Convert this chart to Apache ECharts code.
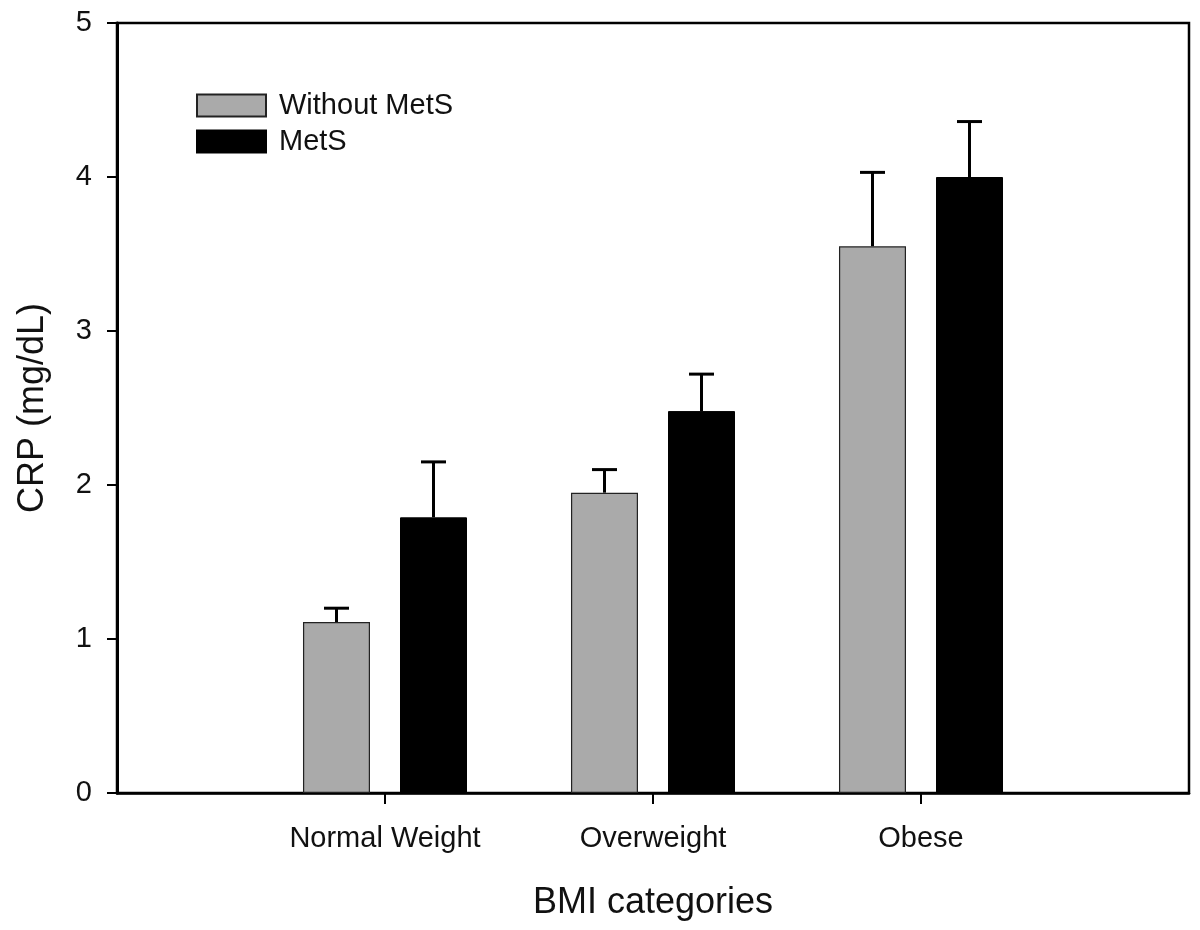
<!DOCTYPE html>
<html>
<head>
<meta charset="utf-8">
<script src="https://cdn.jsdelivr.net/npm/echarts@6/dist/echarts.min.js"></script>
<style>
  html, body { margin: 0; padding: 0; background: #fff; }
  #chart { width: 1200px; height: 930px; }
</style>
</head>
<body>
<div id="chart"></div>
<script>
// ---- Data ----
const categories = ['Normal Weight', 'Overweight', 'Obese'];
const categoryPositions = [1, 2, 3];
const seriesNames = ['Without MetS', 'MetS'];
const withoutMetS = [1.11, 1.95, 3.55];
const withoutMetSErr = [0.09, 0.15, 0.48];
const metS = [1.79, 2.48, 4.00];
const metSErr = [0.36, 0.24, 0.36];
const yTicks = [0, 1, 2, 3, 4, 5];

// ---- Styles ----
const FONT = 'Arial, "Liberation Sans", sans-serif';
const TEXT = '#111';
const BAR_W = 67;
const GAP_PX = 30;
const HALF_OFFSET = (BAR_W + GAP_PX) / 2;

function pairs(vals) { return vals.map((v, i) => [categoryPositions[i], v]); }
function errData(vals, errs) { return vals.map((v, i) => [categoryPositions[i], v, errs[i]]); }

function errRenderer(offset) {
  return function (params, api) {
    const x = api.value(0), v = api.value(1), e = api.value(2);
    const p0 = api.coord([x, v]);
    const p1 = api.coord([x, v + e]);
    const cx = p0[0] + offset;
    const cap = 12.5;
    const style = { stroke: '#000', lineWidth: 3 };
    return {
      type: 'group',
      children: [
        { type: 'line', shape: { x1: cx, y1: p0[1], x2: cx, y2: p1[1] }, style: style },
        { type: 'line', shape: { x1: cx - cap, y1: p1[1], x2: cx + cap, y2: p1[1] }, style: style }
      ]
    };
  };
}

const chart = echarts.init(document.getElementById('chart'), null, { renderer: 'canvas' });
chart.setOption({
  animation: false,
  backgroundColor: '#fff',
  textStyle: { fontFamily: FONT, color: TEXT },
  grid: {
    left: 117, right: 11, top: 23, bottom: 137,
    show: true, borderColor: '#000', borderWidth: 2.5, backgroundColor: 'transparent'
  },
  legend: {
    orient: 'vertical',
    left: 196, top: 91,
    padding: 0,
    itemWidth: 69, itemHeight: 22, itemGap: 7,
    icon: 'rect',
    data: seriesNames,
    textStyle: { fontFamily: FONT, fontSize: 29, color: TEXT, padding: [0, 0, 0, 8] }
  },
  xAxis: {
    type: 'value',
    min: 0, max: 4, interval: 1,
    name: 'BMI categories',
    nameLocation: 'middle',
    nameGap: 92,
    nameTextStyle: { fontFamily: FONT, fontSize: 36, color: TEXT },
    axisLine: { show: true, lineStyle: { color: '#000', width: 2.5 } },
    axisTick: { show: true, inside: false, length: 11, customValues: categoryPositions, lineStyle: { color: '#000', width: 2 } },
    axisLabel: {
      show: true, margin: 31, fontSize: 29, color: TEXT, fontFamily: FONT,
      customValues: categoryPositions,
      formatter: function (v) { const i = categoryPositions.indexOf(v); return i >= 0 ? categories[i] : ''; }
    },
    splitLine: { show: false }
  },
  yAxis: {
    type: 'value',
    min: 0, max: 5, interval: 1,
    name: 'CRP (mg/dL)',
    nameLocation: 'middle',
    nameGap: 66,
    nameRotate: 90,
    nameTextStyle: { fontFamily: FONT, fontSize: 36, color: TEXT },
    axisLine: { show: true, lineStyle: { color: '#000', width: 3 } },
    axisTick: { show: true, inside: false, length: 10, lineStyle: { color: '#000', width: 2 } },
    axisLabel: { show: true, margin: 25, fontSize: 29, color: TEXT, fontFamily: FONT,
      customValues: yTicks },
    splitLine: { show: false }
  },
  series: [
    {
      name: seriesNames[0], type: 'bar', data: pairs(withoutMetS),
      barWidth: BAR_W, barGap: (GAP_PX / BAR_W * 100).toFixed(1) + '%',
      itemStyle: { color: '#aaaaaa', borderColor: '#222', borderWidth: 1.2 }
    },
    {
      name: seriesNames[1], type: 'bar', data: pairs(metS),
      barWidth: BAR_W,
      itemStyle: { color: '#000000', borderColor: '#000', borderWidth: 1 }
    },
    {
      name: 'err0', type: 'custom', data: errData(withoutMetS, withoutMetSErr),
      encode: { x: 0, y: 1 }, renderItem: errRenderer(-HALF_OFFSET), z: 1, silent: true
    },
    {
      name: 'err1', type: 'custom', data: errData(metS, metSErr),
      encode: { x: 0, y: 1 }, renderItem: errRenderer(HALF_OFFSET), z: 1, silent: true
    }
  ]
});
</script>
</body>
</html>
